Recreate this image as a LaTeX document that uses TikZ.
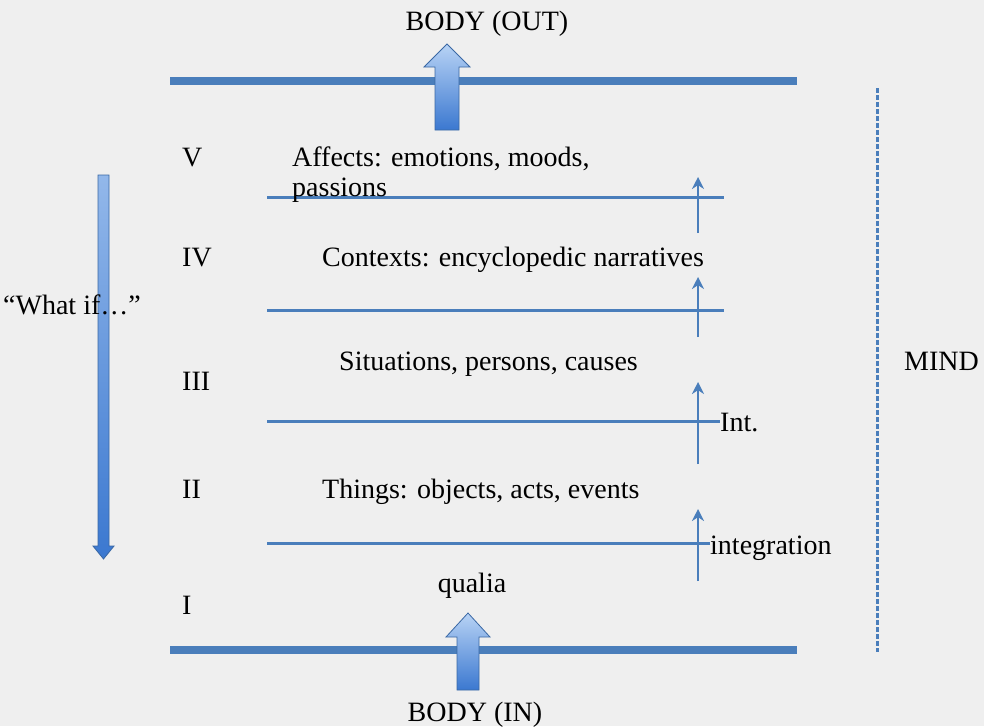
\documentclass[tikz,border=0pt]{standalone}
\usepackage{fontspec}
\setmainfont{Liberation Serif}
\usepackage{xcolor}
\definecolor{lineBlue}{HTML}{4A7EBB}
\definecolor{lineDark}{HTML}{3A68A4}
\definecolor{arrowTop}{HTML}{B8D3F5}
\definecolor{arrowBot}{HTML}{3B78D0}
\definecolor{slideBg}{HTML}{EFEFEF}
\usetikzlibrary{arrows.meta,positioning}
\tikzset{%
  slideText/.style={%
    inner sep=0pt,
    anchor=base west,
    font=\fontsize{28}{34}\selectfont
  },
  bodyLine/.style={%
    line width=7.5pt,
    draw=lineBlue
  },
  levelLine/.style={%
    line width=3pt,
    draw=lineBlue
  },
  intArrow/.style={%
    -{Stealth[length=12pt,width=12pt]},
    line width=2.8pt,
    draw=lineBlue
  },
  blockArrow/.style={%
    top color=arrowTop,
    bottom color=arrowBot,
    draw=lineDark,
    line width=0.8pt
  },
  mindLine/.style={%
    dash pattern=on 5pt off 2pt,
    line width=3pt,
    draw=lineBlue
  }
}
\begin{document}
\begin{tikzpicture}[x=1pt,y=-1pt]
  \fill[slideBg] (0,0) rectangle (984,726);
  \useasboundingbox (0,0) rectangle (984,726);

  % body lines and the two big arrows
  \coordinate (outL) at (170,81);
  \coordinate (outR) at (797,81);
  \coordinate (inL) at (170,650);
  \coordinate (inR) at (797,650);
  \draw[bodyLine] (outL) -- (outR);
  \draw[bodyLine] (inL) -- (inR);
  \draw[blockArrow] (435,130) -- (435,67) -- (424,67) -- (447,44) -- (470,67)
    -- (459,67) -- (459,130) -- cycle;
  \draw[blockArrow] (457,690) -- (457,637) -- (446,637) -- (468,613) -- (490,637)
    -- (479,637) -- (479,690) -- cycle;
  \node[slideText, anchor=base] (bodyOut) at (487,30) {BODY (OUT)};
  \node[slideText, anchor=base] (bodyIn) at (475,721) {BODY (IN)};

  % levels
  \foreach \ly/\lend [count=\i] in {197/724, 310/724, 421/720, 543/710} {
    \coordinate (lvlL\i) at (267,\ly);
    \coordinate (lvlR\i) at (\lend,\ly);
    \draw[levelLine] (lvlL\i) -- (lvlR\i);
  }
  \foreach \ys/\ye [count=\i] in {233/177, 337/277, 464/382, 581/509} {
    \coordinate (intS\i) at (698,\ys);
    \coordinate (intE\i) at (698,\ye);
    \draw[intArrow] (intS\i) -- (intE\i);
  }

  \node[slideText] (romanV) at (182,166) {V};
  \node[slideText] (romanIV) at (182,266) {IV};
  \node[slideText] (romanIII) at (182,390) {III};
  \node[slideText] (romanII) at (182,498) {II};
  \node[slideText] (romanI) at (182,614) {I};

  \node[slideText] (affects) at (292,166) {Affects: emotions, moods,};
  \node[slideText] (passions) at (292,196) {passions};
  \node[slideText] (contexts) at (322,266) {Contexts: encyclopedic narratives};
  \node[slideText] (situations) at (339,370) {Situations, persons, causes};
  \node[slideText] (things) at (322,498) {Things: objects, acts, events};
  \node[slideText, anchor=base] (qualia) at (472,592) {qualia};
  \node[slideText] (intShort) at (720,431) {Int.};
  \node[slideText] (integration) at (710,554) {integration};

  % what if arrow
  \draw[blockArrow, top color=arrowTop!70!arrowBot] (98,175) -- (98,546) -- (93,546) -- (103.5,559)
    -- (114,546) -- (109,546) -- (109,175) -- cycle;
  \node[slideText] (whatIf) at (3,314) {“What if…”};

  % mind
  \coordinate (mindTop) at (877,88);
  \coordinate (mindBot) at (877,652);
  \draw[mindLine] (mindTop) -- (mindBot);
  \node[slideText, anchor=base east] (mind) at (979,370) {MIND};
\end{tikzpicture}
\end{document}
